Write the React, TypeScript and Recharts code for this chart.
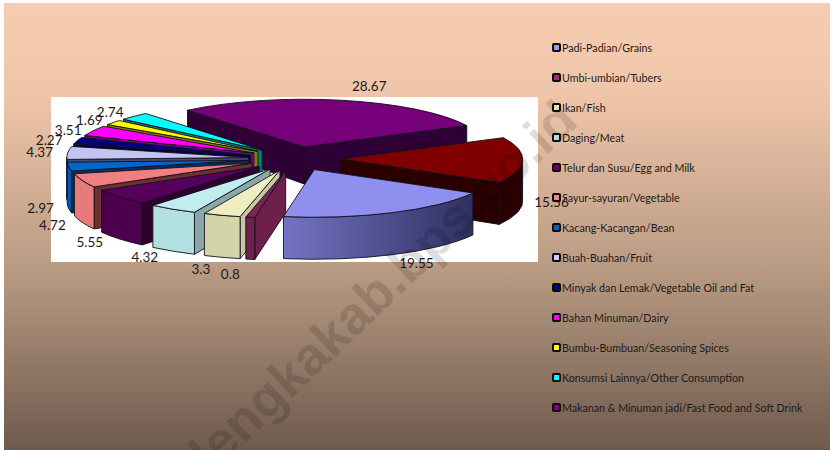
import { PieChart, Pie, Legend } from 'recharts'

const categories = [
  'Padi-Padian/Grains',
  'Umbi-umbian/Tubers',
  'Ikan/Fish',
  'Daging/Meat',
  'Telur dan Susu/Egg and Milk',
  'Sayur-sayuran/Vegetable',
  'Kacang-Kacangan/Bean',
  'Buah-Buahan/Fruit',
  'Minyak dan Lemak/Vegetable Oil and Fat',
  'Bahan Minuman/Dairy',
  'Bumbu-Bumbuan/Seasoning Spices',
  'Konsumsi Lainnya/Other Consumption',
  'Makanan & Minuman jadi/Fast Food and Soft Drink',
  'Rokok dan Tembakau/Tobacco',
]
const values = [19.55, 0.8, 3.3, 4.32, 5.55, 4.72, 2.97, 4.37, 2.27, 3.51, 1.69, 2.74, 28.67, 15.56]

const topColors = ['#8f8ff0', '#7c2559', '#eeeec2', '#bfeeee', '#55005c', '#f08080', '#0066cc', '#c4c4f2', '#000080', '#ff00ff', '#ffff00', '#00ffff', '#76007a', '#800000']
const rimColors = ['url(#padiRim)', '#6e1f4c', '#d4d4aa', '#b2e0e0', '#4d0050', '#e87a7a', '#0058b0', '#b0b0e0', '#000060', '#c000c0', '#c0c000', '#00c0c0', '#4d0050', '#2b0000']
const wallColors = ['#50508a', '#6e1f4c', '#c8c8a0', '#8aa8a8', '#2d0030', '#6e3030', '#003060', '#4a4a70', '#000040', '#800080', '#808000', '#008080', '#2e0035', '#2b0000']
const legendColors = ['#9999ff', '#993366', '#ffffcc', '#ccffff', '#660066', '#ff8080', '#0066cc', '#ccccff', '#000080', '#ff00ff', '#ffff00', '#00ffff', '#800080']

// back to front, the pie is faked 3d so the slices have to be painted in this order
const paintOrder = [12, 13, 0, 11, 10, 9, 8, 7, 6, 5, 4, 3, 2, 1]
const labelNudge = [[24, 50], [-20, 57], [-21, 54], [-28, 48], [-30, 45], [-30, 44], [-28, 41], [-28, -1], [-28, -1], [-25, -1], [-24, -3], [-24, -4], [28, -14], [29, 42]]

const CX = 294.6
const CY = 158.7
const RADIUS = 182
const EXPLODE = 46
const TILT = 0.262
const RAD = Math.PI / 180

const data = categories.map((name, i) => ({ name, value: values[i] }))

const wallDepth = (y: number) => Math.min(42, Math.max(32, 32 + (y - 126) * 0.24))

function Slice3D(props: any) {
  const { startAngle, endAngle, index } = props
  const mid = (startAngle + endAngle) / 2
  const ax = CX + EXPLODE * Math.cos(mid * RAD)
  const ay = CY - EXPLODE * TILT * Math.sin(mid * RAD)
  const pt = (deg: number): [number, number] => [
    ax + RADIUS * Math.cos(deg * RAD),
    ay - RADIUS * TILT * Math.sin(deg * RAD),
  ]
  const down = (p: [number, number]): [number, number] => [p[0], p[1] + wallDepth(p[1])]
  const apexLow = down([ax, ay])
  const [sx, sy] = pt(startAngle)
  const [ex, ey] = pt(endAngle)
  const rx = RADIUS
  const ry = RADIUS * TILT
  const line = '#14101a'

  const wall = (p: [number, number]) => {
    const low = down(p)
    return `M${ax},${ay}L${p[0]},${p[1]}L${low[0]},${low[1]}L${apexLow[0]},${apexLow[1]}Z`
  }
  // a cut face only shows when it turns towards the viewer
  const showStart = Math.cos(startAngle * RAD) < 0
  const showEnd = Math.cos(endAngle * RAD) > 0

  // rim only shows on the front half of the ellipse
  const hi = Math.max(startAngle, endAngle)
  const lo = Math.min(startAngle, endAngle)
  let rim = ''
  for (const k of [-360, 0]) {
    const from = Math.max(lo, k - 180)
    const to = Math.min(hi, k)
    if (to <= from) continue
    const a = pt(to)
    const b = pt(from)
    const al = down(a)
    const bl = down(b)
    rim += `M${a[0]},${a[1]}A${rx},${ry} 0 0 1 ${b[0]},${b[1]}L${bl[0]},${bl[1]}A${rx},${ry} 0 0 0 ${al[0]},${al[1]}Z`
  }

  const top = `M${ax},${ay}L${sx},${sy}A${rx},${ry} 0 0 ${startAngle > endAngle ? 1 : 0} ${ex},${ey}Z`

  return (
    <g stroke={line} strokeWidth={0.9} strokeLinejoin="round">
      {showStart && <path d={wall([sx, sy])} fill={wallColors[index]} />}
      {showEnd && <path d={wall([ex, ey])} fill={wallColors[index]} />}
      {rim && <path d={rim} fill={rimColors[index]} />}
      <path d={top} fill={topColors[index]} />
    </g>
  )
}

function sliceLabel(props: any) {
  const { index, startAngle, endAngle } = props
  const mid = (startAngle + endAngle) / 2
  const x = CX + (RADIUS + EXPLODE) * Math.cos(mid * RAD) + labelNudge[index][0]
  const y = CY - (RADIUS + EXPLODE) * TILT * Math.sin(mid * RAD) + labelNudge[index][1]
  return (
    <text x={x} y={y} textAnchor="middle" dominantBaseline="central" fontFamily="Lato" fontSize={13.5} fill="#1c1a18">
      {values[index]}
    </text>
  )
}

function renderLegend() {
  return (
    <div>
      {categories.slice(0, 13).map((name, i) => (
        <div key={name} style={{ height: 30, display: 'flex', alignItems: 'center', fontFamily: 'Lato', fontSize: 10.7, color: '#1f1a16', whiteSpace: 'nowrap' }}>
          <span style={{ width: 9, height: 9, boxSizing: 'border-box', border: '2px solid #0a0a0a', borderRadius: 2, background: legendColors[i], marginRight: 1, flex: 'none' }} />
          {name}
        </div>
      ))}
    </div>
  )
}

export default function App() {
  return (
    <div style={{ position: 'absolute', left: 0, top: 0, width: 830, height: 450, background: '#fff', overflow: 'hidden' }}>
      <div style={{ position: 'absolute', left: 4, top: 3, width: 826, height: 447, background: 'linear-gradient(180deg, #f6cdb2 0%, #f0c6aa 20%, #b89a82 60%, #6e5a4d 100%)' }} />
      <div style={{ position: 'absolute', left: 51, top: 97, width: 487, height: 165, background: '#fff' }} />
      <div style={{ position: 'absolute', left: 0, top: 0 }}>
        <PieChart width={830} height={450} margin={{ top: 0, right: 0, bottom: 0, left: 0 }}>
          <defs>
            <linearGradient id="padiRim" x1="0" y1="0" x2="1" y2="0">
              <stop offset="0%" stopColor="#7474c4" />
              <stop offset="100%" stopColor="#2f3060" />
            </linearGradient>
          </defs>
          {paintOrder.map((idx) => (
            <Pie
              key={idx}
              data={data}
              dataKey="value"
              nameKey="name"
              cx={CX}
              cy={CY}
              outerRadius={RADIUS}
              startAngle={-29.4}
              endAngle={-389.4}
              paddingAngle={0}
              stroke="none"
              isAnimationActive={false}
              label={false}
              labelLine={false}
              shape={(p: any) => (p.index === idx ? <Slice3D {...p} /> : <g />)}
            />
          ))}
          <Pie
            data={data}
            dataKey="value"
            cx={CX}
            cy={CY}
            outerRadius={RADIUS}
            startAngle={-29.4}
            endAngle={-389.4}
            isAnimationActive={false}
            labelLine={false}
            label={sliceLabel}
            shape={() => <g />}
          />
          <Legend content={renderLegend} wrapperStyle={{ left: 552, top: 32.5, width: 270, bottom: 'auto', right: 'auto' }} />
        </PieChart>
      </div>
      <svg width={830} height={450} style={{ position: 'absolute', left: 0, top: 0, pointerEvents: 'none' }}>
        <text x={211} y={475} transform="rotate(-43.6 211 475)" fontFamily="Liberation Sans" fontWeight={700} fontSize={53} fill="rgba(0,0,0,0.13)">
          lengkakab.bps.go.id
        </text>
      </svg>
    </div>
  )
}
